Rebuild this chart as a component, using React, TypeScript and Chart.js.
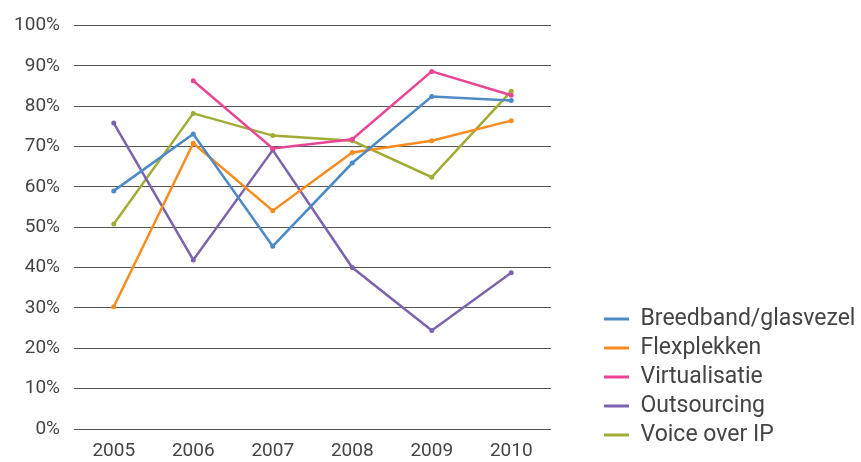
import React, { useEffect, useRef } from "react";
import { Chart, registerables } from "chart.js";

Chart.register(...registerables);

const years = ["2005", "2006", "2007", "2008", "2009", "2010"];
const breedband = [59.0, 73.1, 45.3, 65.9, 82.4, 81.4];
const flexplekken = [30.3, 70.8, 54.1, 68.5, 71.4, 76.4];
const virtualisatie = [null, 86.3, 69.5, 71.8, 88.6, 82.7];
const outsourcing = [75.8, 41.9, 69.1, 40.0, 24.4, 38.7];
const voiceOverIP = [50.8, 78.2, 72.7, 71.4, 62.4, 83.7];

const seriesNames = ["Breedband/glasvezel", "Flexplekken", "Virtualisatie", "Outsourcing", "Voice over IP"];
const seriesColors = ["#4d8bc8", "#f98c20", "#e84595", "#7d63ae", "#a2ab36"];

const FONT = "Roboto";

const legendFitPlugin = {
  id: "legendFit",
  afterInit(chart: any) {
    const lg = chart.legend;
    if (!lg || lg._patched) return;
    const origUpdate = lg.update.bind(lg);
    lg.update = (mw: number, mh: number, m: any) => {
      origUpdate(1000, mh, m);
      lg.width = 263;
    };
    const origDraw = lg.draw.bind(lg);
    lg.draw = () => {
      const b = lg.bottom;
      lg.bottom = b - 9.5;
      origDraw();
      lg.bottom = b;
    };
    lg._patched = true;
  },
};

export default function App() {
  const ref = useRef<HTMLCanvasElement>(null);
  useEffect(() => {
    if (!ref.current) return;
    const allData = [breedband, flexplekken, virtualisatie, outsourcing, voiceOverIP];
    const chart = new Chart(ref.current, {
      type: "line",
      data: {
        labels: years,
        datasets: allData.map((d, i) => ({
          label: seriesNames[i],
          data: d as any,
          borderColor: seriesColors[i],
          backgroundColor: seriesColors[i],
          borderWidth: 2.5,
          pointRadius: 2.5,
          pointHoverRadius: 3,
          pointBorderWidth: 0,
          tension: 0,
          spanGaps: false,
        })),
      },
      plugins: [legendFitPlugin],
      options: {
        animation: false,
        responsive: false,
        maintainAspectRatio: false,
        layout: { padding: { top: 15, bottom: 0, left: 0, right: 0 } },
        plugins: {
          tooltip: { enabled: false },
          legend: {
            position: "right",
            align: "end",
            labels: {
              usePointStyle: true,
              pointStyle: "line",
              pointStyleWidth: 25,
              boxHeight: 23,
              padding: 6,
              color: "#444",
              font: { family: FONT, size: 23 },
              generateLabels: (c: any) =>
                c.data.datasets.map((ds: any, i: number) => ({
                  text: ds.label,
                  fillStyle: ds.borderColor,
                  strokeStyle: ds.borderColor,
                  fontColor: "#444",
                  lineWidth: 3,
                  pointStyle: "line",
                  hidden: false,
                  datasetIndex: i,
                })),
            },
          },
        },
        scales: {
          x: {
            offset: true,
            grid: { display: false, drawTicks: false },
            border: { display: false },
            ticks: { color: "#444", padding: 11, font: { family: FONT, size: 19 } },
            afterFit: (s: any) => { s.height = 33; },
          },
          y: {
            min: 0,
            max: 100,
            grid: { color: "#555", lineWidth: 1, drawTicks: false },
            border: { display: false },
            ticks: {
              stepSize: 10,
              padding: 14,
              color: "#444",
              font: { family: FONT, size: 19 },
              callback: (v: any) => v + "%",
            },
            afterFit: (s: any) => { s.width = 74; },
          },
          yPad: {
            type: "linear",
            position: "right",
            display: true,
            grid: { display: false, drawTicks: false },
            border: { display: false },
            ticks: { display: false },
            afterFit: (s: any) => { s.width = 47; },
          },
        },
      } as any,
    });
    return () => chart.destroy();
  }, []);
  return (
    <div style={{ position: "absolute", left: 0, top: 0, width: 861, height: 462, background: "#fff" }}>
      <canvas ref={ref} width={861} height={462} style={{ width: 861, height: 462 }} />
    </div>
  );
}
